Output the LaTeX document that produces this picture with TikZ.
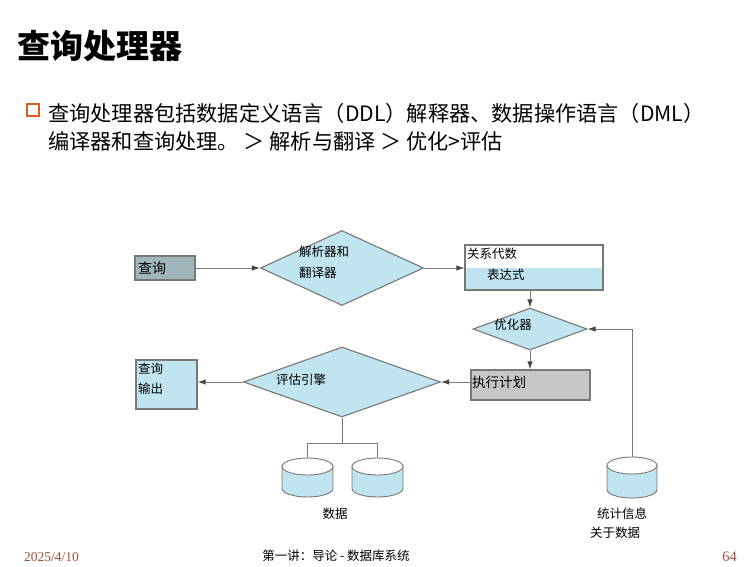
\documentclass[tikz,border=0pt]{standalone}
\usepackage{fontspec}
\setmainfont{Noto Sans CJK SC}
\newfontfamily\datefont{Liberation Serif}
\usetikzlibrary{shapes.geometric,arrows.meta}
\definecolor{flowblue}{RGB}{192,228,240}
\definecolor{edgegray}{RGB}{120,120,120}
\definecolor{querygray}{RGB}{160,182,187}
\definecolor{plangray}{RGB}{199,199,199}
\definecolor{bulletred}{RGB}{222,90,30}
\definecolor{footred}{RGB}{160,80,60}
\definecolor{linkgray}{RGB}{70,70,70}
% a storage drum: name, centre x, top-ellipse centre y, bottom-ellipse centre y, x radius
\newcommand{\dbstore}[5]{%
  \filldraw[fill=flowblue,draw=edgegray,line width=0.9pt]
    ({#2-#5},#3) -- ({#2-#5},#4)
    arc[start angle=180,end angle=0,x radius=#5,y radius=8.5] -- ({#2+#5},#3) -- cycle;
  \filldraw[fill=white,draw=edgegray,line width=0.9pt] (#2,#3) ellipse[x radius=#5,y radius=8.5];
  \coordinate (#1) at (#2,{#3-8.5});}
\begin{document}
\begin{tikzpicture}[x=1pt,y=-1pt,
  box/.style={draw=edgegray,line width=1.2pt,inner sep=0pt},
  decision/.style={diamond,draw=edgegray,line width=1.1pt,fill=flowblue,inner sep=0pt},
  lbl/.style={inner sep=0pt,font=\fontsize{12.5}{15}\selectfont},
  flow/.style={draw=edgegray,line width=1pt,-{Latex[length=8pt,width=5.5pt,color=linkgray]}},
  tie/.style={draw=edgegray,line width=1pt}]
\useasboundingbox[fill=white] (0,0) rectangle (755,567);

% heading and bullet text
\node[anchor=west,inner sep=0pt,font=\fontsize{33}{38}\selectfont\bfseries] (title) at (17,46) {查询处理器};
\node[draw=bulletred,line width=1.6pt,minimum size=12pt,inner sep=0pt] (bullet) at (33,110) {};
\node[anchor=west,inner sep=0pt,font=\fontsize{21.2}{28}\selectfont] (line1) at (48,113) {查询处理器包括数据定义语言（DDL）解释器、数据操作语言（DML）};
\node[anchor=west,inner sep=0pt,font=\fontsize{21.2}{28}\selectfont] (line2) at (48,141) {编译器和查询处理。 ＞ 解析与翻译 ＞ 优化>评估};

% flow nodes
\node[box,fill=querygray,minimum width=60pt,minimum height=24pt] (query) at (165,268) {};
\node[lbl,anchor=west,font=\fontsize{14}{16}\selectfont] (querytext) at (138,268) {查询};
\node[decision,minimum width=163pt,minimum height=75pt] (parse) at (342,268) {};
\node[lbl,anchor=north west,align=left,font=\fontsize{12.5}{21}\selectfont] (parsetext) at (299,246) {解析器和\\翻译器};
\node[box,minimum width=138pt,minimum height=45pt,
  path picture={\fill[flowblue] (path picture bounding box.west) rectangle (path picture bounding box.south east);}] (relexpr) at (534,267.5) {};
\node[lbl,anchor=west] (reltext1) at (467,254) {关系代数};
\node[lbl,anchor=west] (reltext2) at (487,275) {表达式};
\node[decision,minimum width=114pt,minimum height=42pt] (opt) at (530,329) {};
\node[lbl] (opttext) at (513,325) {优化器};
\node[box,fill=plangray,minimum width=119pt,minimum height=30pt] (plan) at (530.5,385) {};
\node[lbl,anchor=west,font=\fontsize{13.5}{16}\selectfont] (plantext) at (472,382) {执行计划};
\node[decision,minimum width=197pt,minimum height=70pt] (eval) at (342,382) {};
\node[lbl] (evaltext) at (301,380) {评估引擎};
\node[box,fill=flowblue,minimum width=61pt,minimum height=49pt] (out) at (166.5,384.5) {};
\node[lbl,anchor=north west,align=left,font=\fontsize{12.5}{20}\selectfont] (outtext) at (138,363) {查询\\输出};

% storage
\dbstore{data1}{307.5}{466.5}{488.5}{25.5}
\dbstore{data2}{377.5}{466.5}{488.5}{25.5}
\dbstore{stats}{632}{465.5}{489.5}{25}
\node[lbl] (datatext) at (335,514) {数据};
\node[lbl] (statstext1) at (622,514) {统计信息};
\node[lbl] (statstext2) at (615,533) {关于数据};

% connectors
\draw[flow] (query.east) -- (parse.west);
\draw[flow] (parse.east) -- (parse.east -| relexpr.west);
\draw[flow] (relexpr.south -| opt.north) -- (opt.north);
\draw[flow] (opt.south) -- (plan.north -| opt.south);
\draw[flow] (plan.west |- eval.east) -- (eval.east);
\draw[flow] (eval.west) -- (out.east |- eval.west);
\draw[flow] (stats) |- (opt.east);
\draw[tie] (eval.south) -- ++(0,26) coordinate (split);
\draw[tie] (split) -| (data1);
\draw[tie] (split) -| (data2);

% footer
\node[anchor=west,inner sep=0pt,text=footred,font=\datefont\fontsize{13.5}{16}\selectfont] (date) at (24,557) {2025/4/10};
\node[inner sep=0pt,font=\fontsize{12.5}{15}\selectfont] (course) at (336,556) {第一讲：导论 - 数据库系统};
\node[anchor=east,inner sep=0pt,text=footred,font=\datefont\fontsize{14.5}{16}\selectfont] (page) at (737,557) {64};
\end{tikzpicture}
\end{document}
